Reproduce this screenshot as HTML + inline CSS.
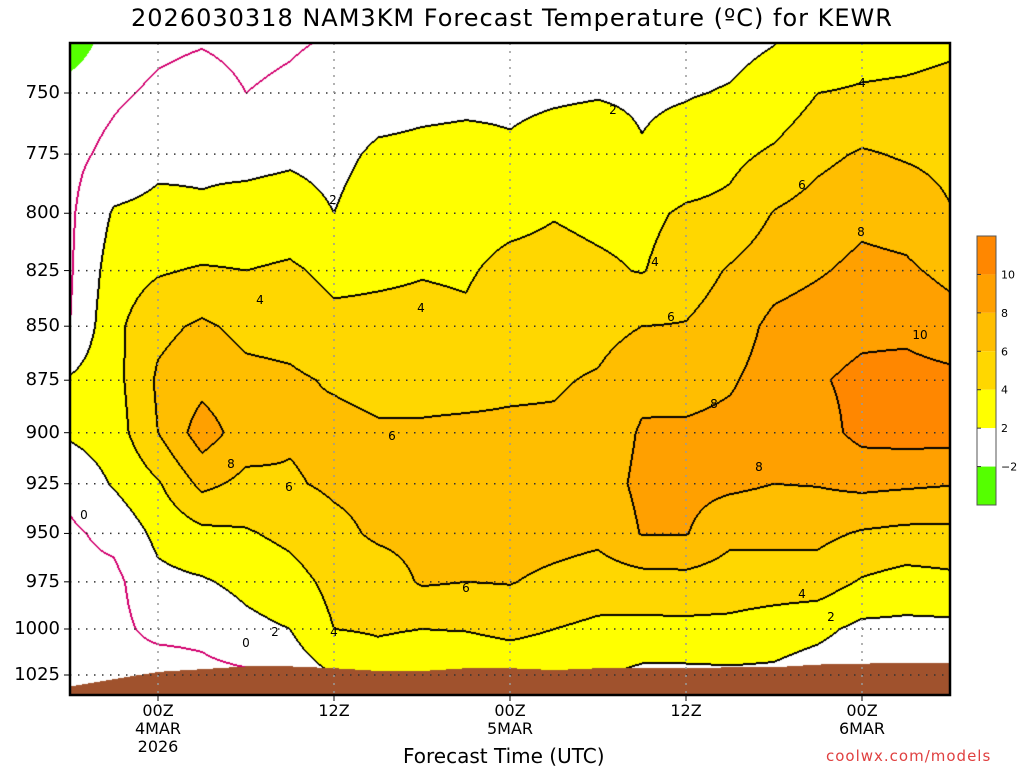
<!DOCTYPE html>
<html><head><meta charset="utf-8"><style>
body{margin:0;background:#fff;width:1024px;height:768px;overflow:hidden;position:relative;font-family:"DejaVu Sans","Liberation Sans",sans-serif;}
.t{position:absolute;white-space:nowrap;color:#000;}
#title{left:0;width:1024px;top:4px;text-align:center;font-size:24px;letter-spacing:1px;}
.yl{position:absolute;right:964px;font-size:18px;}
.xl{position:absolute;font-size:16px;text-align:center;width:80px;line-height:18px;}
.cl{position:absolute;font-size:12px;transform:translate(-50%,-50%);}
</style></head><body>
<div id="title" class="t">2026030318 NAM3KM Forecast Temperature (ºC) for KEWR</div>
<canvas id="cv" width="880" height="652" style="position:absolute;left:70px;top:43px;"></canvas>
<svg id="ov" width="1024" height="768" style="position:absolute;left:0;top:0;"></svg>
<div id="labels"></div>
<div class="t" style="left:403px;top:744px;font-size:20px;">Forecast Time (UTC)</div>
<div class="t" style="left:826px;top:747px;font-size:15px;color:#e04040;letter-spacing:1px;">coolwx.com/models</div>
<script>
const times=[0,3,6,9,12,15,18,21,24,27,30,33,36,39,42,45,48,51,54,57,60];
const levels=[725,750,775,800,825,850,875,900,925,950,975,1000,1025];
const temps=[
[-4,-1,-0.5,-0.3,-0.2,0,2.2,2.3,0.5,-0.3,-0.5,0,0],
[-1,-0.3,0.5,2.2,3.0,3.5,3.3,3,2.2,0.5,-0.5,-0.5,-0.5],
[-0.5,0.3,1.5,2.5,3.8,5.5,6.3,6,3.8,2.5,1.5,0.5,-1],
[-0.3,0.7,1.7,2.2,4.2,6.3,7.3,9,6.5,3.5,1.8,0.5,-0.5],
[-0.5,0,1.5,2.6,4.0,5.5,6.5,7,5.5,3.8,2.5,1.5,-0.3],
[-0.3,0.3,1.7,2.8,4.3,5.3,6.3,6.2,5.8,4.5,3.2,2,0.8],
[0,0.8,1.5,2.0,3.5,4.5,5.8,6.5,6.3,5.5,4.6,4,2],
[0.3,1.2,2.3,3,3.7,4.5,5.5,6.2,6.5,6.3,5,4.2,3],
[0.5,1.5,2.4,3.2,3.9,4.5,5.5,6.2,6.6,6.5,6.2,4,2.5],
[0.8,1.6,2.5,3.3,3.8,4.3,5.5,6.3,6.8,6.8,6,4.1,2.2],
[1,1.7,2.2,3.5,4.5,5.2,5.7,6.3,7,7,6.1,4.5,2.5],
[1,1.8,2.6,3.9,4.6,5.3,5.8,6.3,7,6.8,5.5,4,2.5],
[1.2,1.9,2.8,3.6,4.3,5.3,6.2,6.8,7.2,6.5,5,3.6,2.2],
[1.2,1.8,2.1,3.5,3.9,6,7.5,8.2,8.4,8.1,5.2,3.5,1.5],
[1.3,1.9,2.6,4.3,5,6.1,7.3,8.3,8.6,8.1,5.3,3.5,1.5],
[1.5,2.1,3.5,4.5,6.2,7,7.8,8.5,8.4,6.5,5,3.5,1.6],
[1.8,2.6,4.3,6.1,7.2,8.5,8.8,8.6,8,6.5,5,3,1.6],
[2.2,4,5.5,6.8,7.8,9,9.8,9.2,8.1,6.5,5,2.5,1],
[3,4.2,6.2,7.5,8.5,9.5,10.5,10.6,8.5,5.8,3.8,1.5,0.5],
[3.2,4.3,5.8,7.2,8.3,9.5,10.7,10.8,8.3,5.5,3.2,1.5,0.5],
[3.5,4.5,5.5,6.1,7.5,8.8,10.5,10.8,8.1,5.5,3.5,1.5,0.5]];
const surfaceP=[1031,1027,1023,1021.5,1020,1020,1021,1022.5,1022.5,1021,1021,1022,1021,1021,1021,1020.5,1020.5,1019,1018.5,1018,1018];
const yTicks=[750,775,800,825,850,875,900,925,950,975,1000,1025];
const xTicks=[6,18,30,42,54];
const xTickLabels=[["00Z","4MAR","2026"],["12Z"],["00Z","5MAR"],["12Z"],["00Z","6MAR"]];
const bandLevels=[-2,2,4,6,8,10];
const bandColors=[[85,255,0],[255,255,255],[255,255,0],[255,215,0],[255,190,0],[255,160,0],[255,135,0]];
const contourLabels=[[613,110,"2"],[862,83,"4"],[333,200,"2"],[802,185,"6"],[260,300,"4"],[421,308,"4"],[655,262,"4"],[861,232,"8"],[671,317,"6"],[920,335,"10"],[392,436,"6"],[714,404,"8"],[231,464,"8"],[759,467,"8"],[289,487,"6"],[84,515,"0"],[466,588,"6"],[802,594,"4"],[831,617,"2"],[275,632,"2"],[334,632,"4"],[246,643,"0"]];
const L=70,R=950,T=43,B=695;
const lnA=Math.log(750),lnB=Math.log(1025);
function yOfP(p){return 93+(Math.log(p)-lnA)/(lnB-lnA)*582;}
function xOfT(t){return L+(t)/60*(R-L);}
const rowY=levels.map(yOfP);
function val(x,y){
  let tf=(x-L)/(R-L)*60/3; let i=Math.min(Math.max(Math.floor(tf),0),times.length-2); let fx=tf-i;
  let j=0; while(j<rowY.length-2&&y>rowY[j+1])j++;
  let fy=(y-rowY[j])/(rowY[j+1]-rowY[j]);
  const a=temps[i][j],b=temps[i+1][j],c=temps[i][j+1],d=temps[i+1][j+1];
  return (a*(1-fx)+b*fx)*(1-fy)+(c*(1-fx)+d*fx)*fy;
}
const cv=document.getElementById('cv'),ctx=cv.getContext('2d');
const W=880,H=652,img=ctx.createImageData(W,H),V=new Float32Array(W*H);
for(let y=0;y<H;y++)for(let x=0;x<W;x++)V[y*W+x]=val(L+x+0.5,T+y+0.5);
function band(v){let k=0;while(k<bandLevels.length&&v>=bandLevels[k])k++;return k;}
const lineLv=[0,2,4,6,8,10];
for(let y=0;y<H;y++)for(let x=0;x<W;x++){
  const v=V[y*W+x];let c=bandColors[band(v)];
  const vr=x<W-1?V[y*W+x+1]:v,vd=y<H-1?V[(y+1)*W+x]:v;
  const vl=x>0?V[y*W+x-1]:v,vu=y>0?V[(y-1)*W+x]:v;
  for(const lv of lineLv){const s=v-lv;if(s*(vr-lv)<0||s*(vd-lv)<0||s*(vl-lv)<0||s*(vu-lv)<0){c=lv===0?[210,0,110]:[0,0,0];break;}}
  const tf=x/W*20;const i=Math.min(Math.floor(tf),19),f=tf-i;
  const sp=surfaceP[i]*(1-f)+surfaceP[i+1]*f;
  if(T+y>=yOfP(sp))c=[160,82,45];
  const o=(y*W+x)*4;img.data[o]=c[0];img.data[o+1]=c[1];img.data[o+2]=c[2];img.data[o+3]=255;
}
ctx.putImageData(img,0,0);
const ov=document.getElementById('ov'),NS='http://www.w3.org/2000/svg';
function mk(tag,attrs){const e=document.createElementNS(NS,tag);for(const k in attrs)e.setAttribute(k,attrs[k]);ov.appendChild(e);return e;}
yTicks.forEach(p=>{const y=yOfP(p);
  const g=mk('line',{x1:L,x2:R,y1:y,y2:y,stroke:'#333','stroke-width':1.5,'stroke-dasharray':'1.5,6.5'});
  
  
  const tk=mk('line',{x1:L-6,x2:L,y1:y,y2:y,stroke:'#000','stroke-width':1});
  
  
  const d=document.createElement('div');d.className='t yl';d.style.top=(y-11)+'px';d.textContent=p;
  
  
  document.body.appendChild(d);
});
xTicks.forEach((t,k)=>{const x=xOfT(t);
  const g=mk('line',{x1:x,x2:x,y1:T,y2:B,stroke:'#999','stroke-width':1.5,'stroke-dasharray':'2,6'});
  
  
  const tk=mk('line',{x1:x,x2:x,y1:B,y2:B+6,stroke:'#000','stroke-width':1});
  
  
  const d=document.createElement('div');d.className='t xl';d.style.left=(x-40)+'px';d.style.top='702px';d.innerHTML=xTickLabels[k].join('<br>');
  
  
  document.body.appendChild(d);
});
const fr=mk('rect',{x:L,y:T,width:R-L,height:B-T,fill:'none',stroke:'#000','stroke-width':2.5});


const lgX=977,lgTop=236,lgH=269,segH=lgH/7;
for(let k=0;k<7;k++){const c=bandColors[6-k];
  const r=mk('rect',{x:lgX,y:lgTop+k*segH,width:19,height:segH,fill:'rgb('+c.join(',')+')'});
  
  }
const lb=mk('rect',{x:lgX,y:lgTop,width:19,height:lgH,fill:'none',stroke:'#555','stroke-width':1});


const legLabels=["10","8","6","4","2","−2"];
legLabels.forEach((s,k)=>{const y=lgTop+(k+1)*segH;
  const tx=mk('text',{x:1001,y:y+4,'font-size':11,'font-family':'DejaVu Sans, sans-serif',fill:'#000'});tx.textContent=s;
  
  
  const tk=mk('line',{x1:lgX,x2:lgX+4,y1:y,y2:y,stroke:'#333'});
  
  
});
const lab=document.getElementById('labels');
contourLabels.forEach(c=>{const d=document.createElement('div');d.className='t cl';d.style.left=c[0]+'px';d.style.top=c[1]+'px';d.textContent=c[2];
  
  
  lab.appendChild(d);});
</script>
</body></html>
